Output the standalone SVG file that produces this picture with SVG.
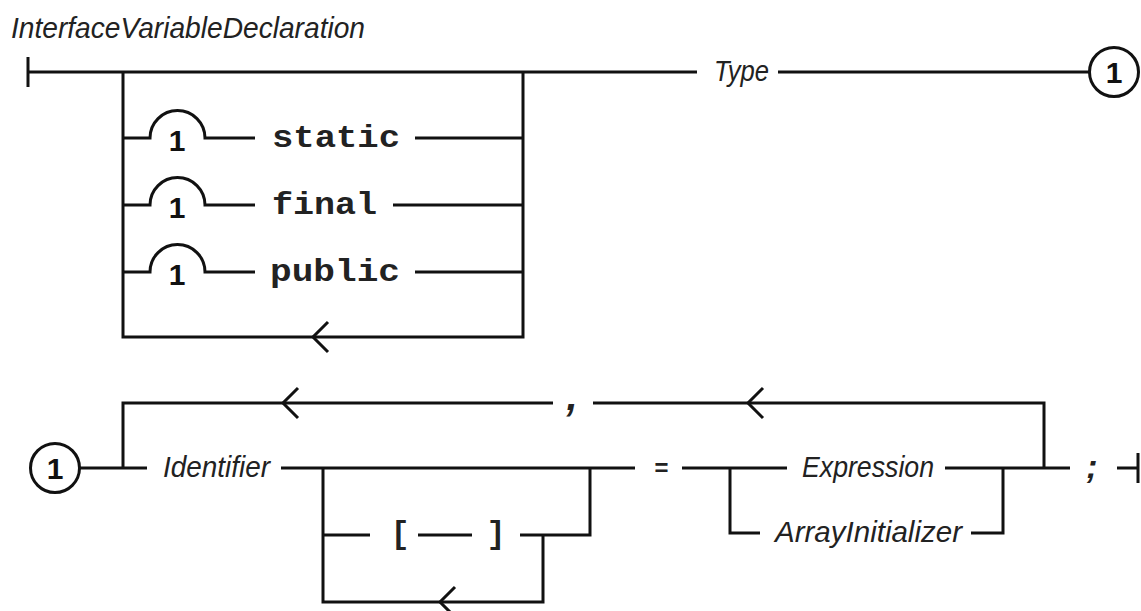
<svg xmlns="http://www.w3.org/2000/svg" width="1141" height="611" viewBox="0 0 1141 611">
<style>
.ln{fill:none;stroke:#111;stroke-width:3;stroke-linecap:butt;stroke-linejoin:miter}
.lbl{font-family:"Liberation Sans",Arial,sans-serif;font-style:italic;font-size:29px;fill:#222}
.kw{font-family:"Liberation Mono","Courier New",monospace;font-weight:bold;font-size:32px;fill:#222}
.num{font-family:"Liberation Sans",Arial,sans-serif;font-weight:bold;font-size:30px;fill:#111;text-anchor:middle}
.pun{font-family:"Liberation Sans",Arial,sans-serif;font-weight:bold;font-style:italic;fill:#222;text-anchor:middle}
.circ{fill:#fff;stroke:#111;stroke-width:3}
</style>
<defs>
<path id="arr" class="ln" d="M15,-15 L0,0 L15,15"/>
</defs>
<rect width="1141" height="611" fill="#fff"/>
<text id="title" x="11" y="38" class="lbl" font-size="25" textLength="354" lengthAdjust="spacingAndGlyphs">InterfaceVariableDeclaration</text>
<g id="connectors">
<path class="ln" d="M28,57 V87 M28,72 H697 M778,72 H1089"/>
<path class="ln" d="M123,72 V337 H523 V72"/>
<use href="#arr" x="313" y="337"/>
<path class="ln" d="M123,138 H150 A27.5,27.5 0 0 1 205,138 H255 M415,138 H523"/>
<path class="ln" d="M123,205 H150 A27.5,27.5 0 0 1 205,205 H255 M393,205 H523"/>
<path class="ln" d="M123,272 H150 A27.5,27.5 0 0 1 205,272 H255 M415,272 H523"/>
<path class="ln" d="M80,468 H147 M123,468 V403 H553 M593,403 H1044 V468"/>
<use href="#arr" x="283" y="403"/>
<use href="#arr" x="748" y="403"/>
<path class="ln" d="M281,468 H635"/>
<path class="ln" d="M323,468 V602 H543 V535 M323,535 H370 M418,535 H472 M520,535 H590 V468"/>
<use href="#arr" x="440" y="602"/>
<path class="ln" d="M682,468 H787 M945,468 H1070 M730,468 V533 H760 M971,533 H1003 V468"/>
<path class="ln" d="M1117,468 H1138 M1138,453 V483"/>
</g>
<g id="n-type"><text x="714" y="81" class="lbl" textLength="55" lengthAdjust="spacingAndGlyphs">Type</text></g>
<g id="n-ref1a"><circle cx="1114" cy="72" r="24.5" class="circ"/><text x="1114" y="83" class="num">1</text></g>
<g id="n-static"><text x="177" y="151" class="num">1</text><text x="272" y="147" class="kw" textLength="128" lengthAdjust="spacingAndGlyphs">static</text></g>
<g id="n-final"><text x="177" y="218" class="num">1</text><text x="272" y="214" class="kw" textLength="105" lengthAdjust="spacingAndGlyphs">final</text></g>
<g id="n-public"><text x="177" y="285" class="num">1</text><text x="270" y="281" class="kw" textLength="130" lengthAdjust="spacingAndGlyphs">public</text></g>
<g id="n-ref1b"><circle cx="55" cy="468" r="24.5" class="circ"/><text x="55" y="479" class="num">1</text></g>
<g id="n-identifier"><text x="163" y="477" class="lbl" textLength="107" lengthAdjust="spacingAndGlyphs">Identifier</text></g>
<g id="n-comma"><text x="572" y="410" class="pun" font-size="40">,</text></g>
<g id="n-lbr"><text x="400" y="543" class="kw" font-size="32" text-anchor="middle">[</text></g>
<g id="n-rbr"><text x="496" y="543" class="kw" font-size="32" text-anchor="middle">]</text></g>
<g id="n-eq"><text x="661" y="476" class="pun" font-size="24" font-style="normal">=</text></g>
<g id="n-expression"><text x="802" y="477" class="lbl" textLength="132" lengthAdjust="spacingAndGlyphs">Expression</text></g>
<g id="n-arrayinit"><text x="775" y="542" class="lbl" textLength="187" lengthAdjust="spacingAndGlyphs">ArrayInitializer</text></g>
<g id="n-semi"><text x="1092" y="478" class="pun" font-size="34">;</text></g>
</svg>
